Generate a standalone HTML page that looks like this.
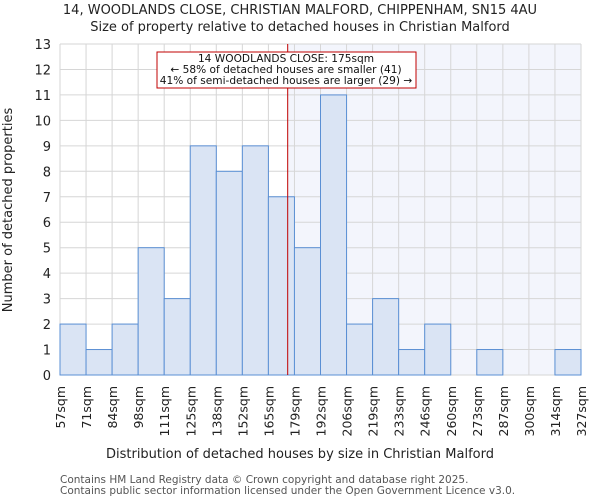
<!DOCTYPE html>
<html><head><meta charset="utf-8"><style>body{margin:0;background:#fff}svg{display:block;font-family:"DejaVu Sans","Liberation Sans",sans-serif}</style></head>
<body>
<svg id="c" width="600" height="500"></svg>
<script>
const binEdges=[57,71,84,98,111,125,138,152,165,179,192,206,219,233,246,260,273,287,300,314,327];
const counts=[2,1,2,5,3,9,8,9,7,5,11,2,3,1,2,0,1,0,0,1];
const yTicks=[0,1,2,3,4,5,6,7,8,9,10,11,12,13];
const subjectSize=175;
const NS="http://www.w3.org/2000/svg";
const svg=document.getElementById('c');
const X0=60,X1=581,Y0=375,Y1=44;
const xs=i=>X0+i*(X1-X0)/(binEdges.length-1);
const xv=v=>X0+(v-binEdges[0])/(binEdges[binEdges.length-1]-binEdges[0])*(X1-X0);
const ys=v=>Y0-v*(Y0-Y1)/13;
function mk(t,a,txt){const e=document.createElementNS(NS,t);for(const k in a)e.setAttribute(k,a[k]);if(txt!==undefined)e.textContent=txt;svg.appendChild(e);return e;}
const sx=xv(subjectSize);
let e=mk('rect',{x:sx,y:Y1,width:X1-sx,height:Y0-Y1,fill:'#f3f5fc'});


yTicks.forEach(t=>{let g=mk('line',{x1:X0,x2:X1,y1:ys(t),y2:ys(t),stroke:'#d6d6d6','stroke-width':1});


let l=mk('text',{x:51,y:ys(t)+5,'text-anchor':'end','font-size':13,fill:'#222'},t);

});
binEdges.forEach((b,i)=>{let g=mk('line',{x1:xs(i),x2:xs(i),y1:Y1,y2:Y0,stroke:'#d6d6d6','stroke-width':1});


let l=mk('text',{transform:`translate(${xs(i)+5},386) rotate(-90)`,'text-anchor':'end','font-size':12.5,fill:'#222'},b+'sqm');

});
counts.forEach((c,i)=>{if(c<=0)return;let r=mk('rect',{x:xs(i),y:ys(c),width:xs(i+1)-xs(i),height:Y0-ys(c),fill:'#dae4f4',stroke:'#5a8fd4','stroke-width':1});

});
e=mk('line',{x1:sx,x2:sx,y1:Y1,y2:Y0,stroke:'#c00000','stroke-width':1});


e=mk('rect',{x:157,y:52,width:259,height:36,fill:'#fff',stroke:'#c00000','stroke-width':1});


[['14 WOODLANDS CLOSE: 175sqm',62],['← 58% of detached houses are smaller (41)',73],['41% of semi-detached houses are larger (29) →',84]].forEach(([t,y])=>{let a=mk('text',{x:286,y:y,'text-anchor':'middle','font-size':10.6,fill:'#111'},t);

});
e=mk('text',{x:300,y:14,'text-anchor':'middle','font-size':13,fill:'#222'},'14, WOODLANDS CLOSE, CHRISTIAN MALFORD, CHIPPENHAM, SN15 4AU');


e=mk('text',{x:300,y:31,'text-anchor':'middle','font-size':13,fill:'#222'},'Size of property relative to detached houses in Christian Malford');


e=mk('text',{x:300,y:458,'text-anchor':'middle','font-size':13,fill:'#222'},'Distribution of detached houses by size in Christian Malford');


e=mk('text',{transform:'translate(12,210) rotate(-90)','text-anchor':'middle','font-size':13,fill:'#222'},'Number of detached properties');


e=mk('text',{x:60,y:483,'font-size':10.5,fill:'#555'},'Contains HM Land Registry data © Crown copyright and database right 2025.');


e=mk('text',{x:60,y:494,'font-size':10.5,fill:'#555'},'Contains public sector information licensed under the Open Government Licence v3.0.');


</script>
</body></html>
